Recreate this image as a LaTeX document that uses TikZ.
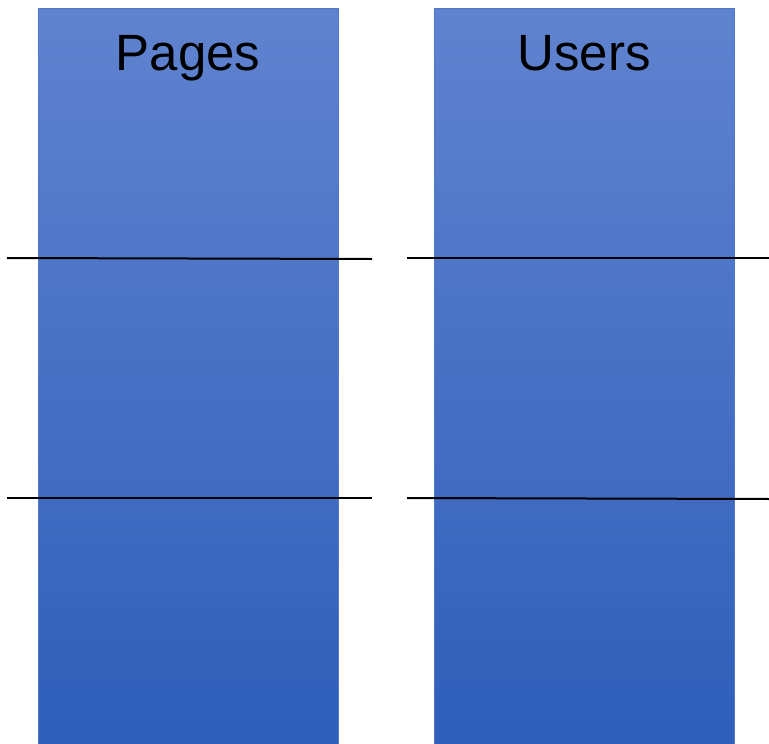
\documentclass[tikz,border=0pt]{standalone}
\usepackage{fontspec}
\setmainfont{Liberation Sans}
\usepackage{tikz}
\usetikzlibrary{positioning}

\definecolor{bartop}{RGB}{96,131,207}
\definecolor{barbottom}{RGB}{46,94,185}
\definecolor{baredge}{RGB}{80,118,200}

\tikzset{
	bar/.style={draw=baredge,line width=0.8pt,top color=bartop,bottom color=barbottom,
		minimum width=300pt,minimum height=740pt,inner sep=0pt,anchor=north},
	caption/.style={font=\fontsize{51}{60}\selectfont,anchor=base,inner sep=0pt},
	divider/.style={line width=2pt,black}
}

\begin{document}
\begin{tikzpicture}[x=1pt,y=-1pt]
	\useasboundingbox (0,0) rectangle (769,744);
	\node [bar] (pages) at (188,8)  {};
	\node [bar] (users) at (584,8)  {};
	\node [caption] (pageslabel) at (188,70) {Pages};
	\node [caption] (userslabel) at (584,70) {Users};
	% dividers
	\coordinate (a1) at (7,258);   \coordinate (a2) at (372,259);
	\coordinate (b1) at (7,498);   \coordinate (b2) at (372,498);
	\coordinate (c1) at (407,258); \coordinate (c2) at (769,258);
	\coordinate (d1) at (407,498); \coordinate (d2) at (769,499);
	\draw [divider] (a1) -- (a2);
	\draw [divider] (b1) -- (b2);
	\draw [divider] (c1) -- (c2);
	\draw [divider] (d1) -- (d2);
\end{tikzpicture}
\end{document}
